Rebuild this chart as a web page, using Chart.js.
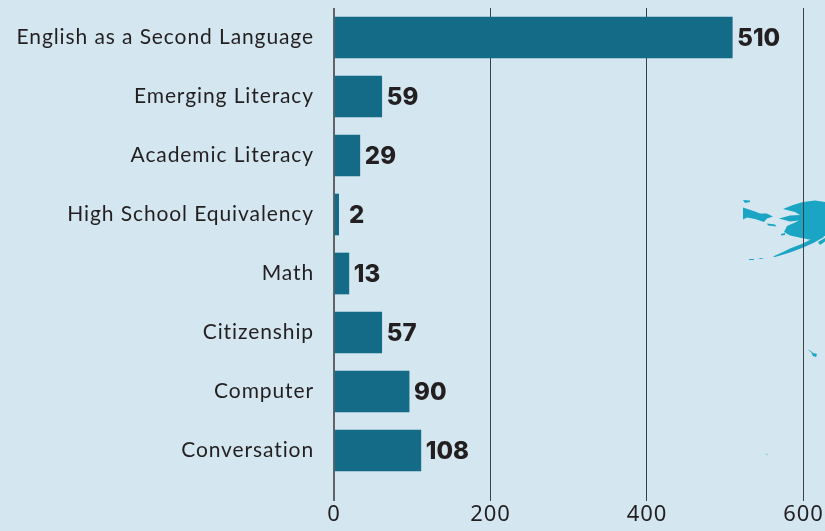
<!DOCTYPE html>
<html>
<head>
<meta charset="utf-8">
<style>
  html, body { margin: 0; padding: 0; background: #d4e6f0; overflow: hidden; }
  #wrap { width: 825px; height: 531px; }
</style>
</head>
<body>
<div id="wrap"><canvas id="myChart"></canvas></div>
<script src="https://cdn.jsdelivr.net/npm/chart.js@4/dist/chart.umd.min.js"></script>
<script>
const categories = [
  "English as a Second Language",
  "Emerging Literacy",
  "Academic Literacy",
  "High School Equivalency",
  "Math",
  "Citizenship",
  "Computer",
  "Conversation",
];
// length of each bar
const barValues = [509, 61, 33, 6, 19, 61, 96, 111];
// number printed next to each bar
const printedValues = [510, 59, 29, 2, 13, 57, 90, 108];
const tickValues = [0, 200, 400, 600];

const ink = "#231f20";

// piece of the map that sits behind the chart
const mapShapes = [
  [[783,209],[793,205],[803,202],[815,200.5],[825,202],[825,236],[820,237],[811.7,240],[801.7,238],[790,235.5],[784,232],[787,226],[795,222.5],[799,220.5],[790,221.5],[779,218.5],[790,215.5],[800,215],[795,212]],
  [[773,256.5],[783,252],[790,248.5],[801.7,244],[811.7,239],[821.7,234],[824,237],[813.3,243],[803.3,247.5],[790,252.5],[781.7,255],[775,257]],
  [[818,242],[825,238],[825,241.5],[820,245]],
  [[743,207.5],[755,211.5],[760,213.5],[766.7,213.5],[773,216.5],[767,218.5],[764,222],[755,219],[747,217.5],[743,219.5]],
  [[743,200],[750,200.5],[750,202],[745,203]],
  [[767,223.5],[775,224.5],[776.5,226.5],[768,225.5]],
  [[781,234],[785,233],[785,235],[781,235.5]],
  [[749,259],[754,259],[754,260],[749,260]],
  [[758,258],[764,258],[761,259]],
  [[807,349],[811,351],[813,353],[817,354],[816,357],[813,356],[811,352]],
  [[765,453],[768,455],[767,455]],
];

const backdrop = {
  id: "backdrop",
  beforeDraw(chart) {
    const ctx = chart.ctx;
    ctx.save();
    ctx.fillStyle = "#1aa5c4";
    mapShapes.forEach((shape) => {
      ctx.beginPath();
      shape.forEach((p, i) => (i ? ctx.lineTo(p[0], p[1]) : ctx.moveTo(p[0], p[1])));
      ctx.closePath();
      ctx.fill();
    });
    ctx.restore();
    // wider tracking, used by the category labels
    ctx.letterSpacing = "0.9px";
  },
};

const barLabels = {
  id: "barLabels",
  afterDatasetsDraw(chart) {
    const ctx = chart.ctx;
    const zero = chart.scales.x.getPixelForValue(0);
    ctx.save();
    ctx.letterSpacing = "0px";
    ctx.font = "800 24px Inter";
    ctx.fillStyle = ink;
    ctx.textAlign = "left";
    ctx.textBaseline = "middle";
    chart.getDatasetMeta(0).data.forEach((bar, i) => {
      ctx.fillText(printedValues[i], Math.max(bar.x + 5, zero + 15), bar.y + 1);
    });
    ctx.restore();
  },
};

var ctx = document.getElementById("myChart").getContext("2d");
var myChart = new Chart(ctx, {
  type: "bar",
  data: {
    labels: categories,
    datasets: [
      {
        data: barValues,
        backgroundColor: "#146b87",
        barThickness: 41,
      },
    ],
  },
  options: {
    indexAxis: "y",
    responsive: true,
    maintainAspectRatio: false,
    animation: false,
    layout: { padding: { top: 8 } },
    plugins: {
      legend: { display: false },
      tooltip: { enabled: false },
    },
    scales: {
      x: {
        min: 0,
        max: 627.5,
        afterBuildTicks(scale) {
          scale.ticks = tickValues.map((value) => ({ value }));
        },
        afterFit(scale) {
          scale.height = 51;
        },
        border: { display: false },
        grid: {
          color: (c) => (c.tick.value === 0 ? "#5f6468" : "#3c4144"),
          tickColor: (c) => (c.tick.value === 0 ? "#5f6468" : "#3c4144"),
          lineWidth: (c) => (c.tick.value === 0 ? 2 : 1),
          tickLength: 21,
        },
        ticks: {
          color: ink,
          font: { family: "Noto Sans", size: 22 },
          padding: 1,
          maxRotation: 0,
          autoSkip: false,
        },
      },
      y: {
        afterFit(scale) {
          scale.width = 334;
          // tick padding would otherwise push the plot area down
          scale.paddingTop = 0;
          scale.paddingBottom = 0;
        },
        border: { display: false },
        grid: { display: false, drawTicks: false },
        ticks: {
          color: ink,
          font: { family: "Lato", size: 21 },
          padding: 20,
          autoSkip: false,
        },
      },
    },
  },
  plugins: [backdrop, barLabels],
});
</script>
</body>
</html>
